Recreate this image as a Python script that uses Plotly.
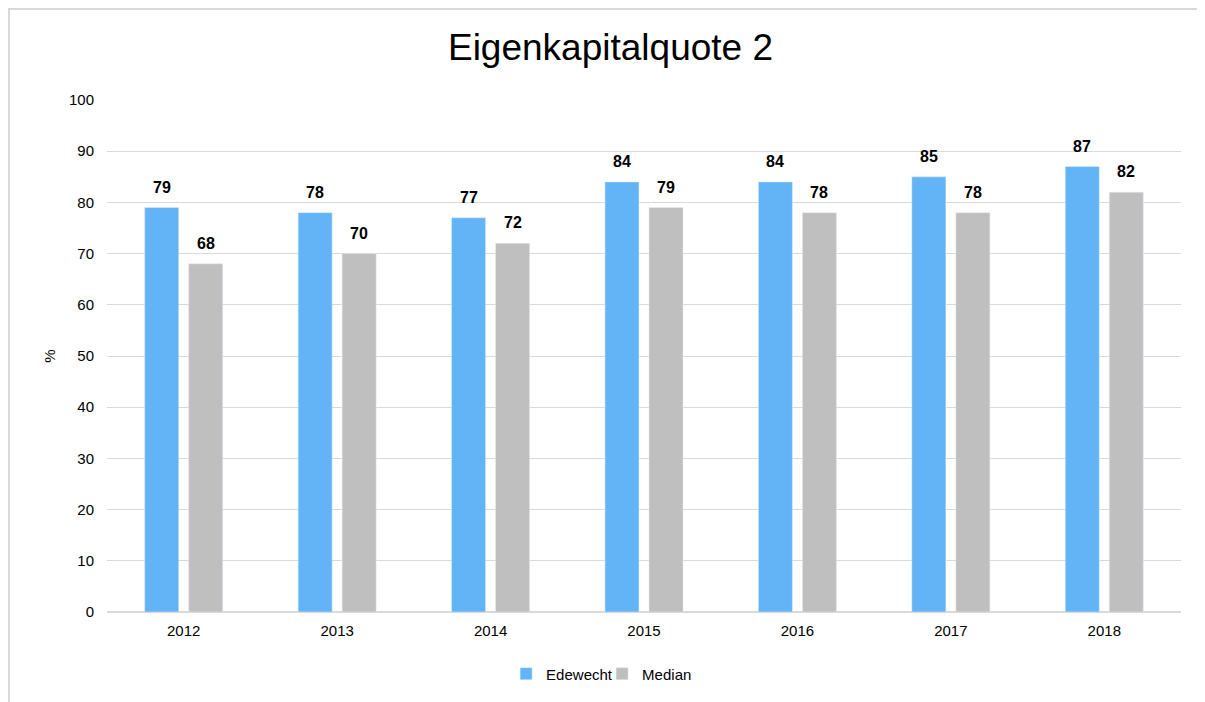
import plotly.graph_objects as go

years = ["2012", "2013", "2014", "2015", "2016", "2017", "2018"]
edewecht = [79, 78, 77, 84, 84, 85, 87]
median = [68, 70, 72, 79, 78, 78, 82]

BLUE = "#63b4f6"
GREY = "#bfbfbf"
FONT = "Liberation Sans, Arial, sans-serif"

fig = go.Figure()
fig.add_trace(go.Bar(x=years, y=edewecht, name="Edewecht", marker=dict(color=BLUE)))
fig.add_trace(go.Bar(x=years, y=median, name="Median", marker=dict(color=GREY)))

# value labels above the bars (x given as category index)
for series, shift in ((edewecht, -22), (median, 22)):
    for i, v in enumerate(series):
        fig.add_annotation(
            x=i, y=v, text=f"<b>{v}</b>", showarrow=False,
            xshift=shift, yshift=10, yanchor="bottom",
            font=dict(size=16, color="#000000", family=FONT),
        )

# light frame around the chart (page body adds 8px, so the frame sits at the figure edge)
fig.add_shape(
    type="rect", xref="paper", yref="paper",
    x0=-98 / 1074, x1=1.2,
    y0=-0.4, y1=(604 - 1) / 512,
    line=dict(color="#d9d9d9", width=2), fillcolor="rgba(0,0,0,0)", layer="below",
)

fig.update_layout(
    width=1205, height=702,
    margin=dict(l=99, r=32, t=92, b=98),
    paper_bgcolor="white", plot_bgcolor="white",
    font=dict(family=FONT, size=15, color="#000000"),
    title=dict(text="Eigenkapitalquote 2", x=0.5, xanchor="center", y=0.944, yanchor="middle",
               font=dict(size=37, color="#000000")),
    barmode="group", bargap=0.426, bargroupgap=0.227,
    showlegend=True,
    legend=dict(orientation="h", x=0.461, xanchor="center", y=-0.121, yanchor="middle",
                font=dict(size=15), traceorder="normal", itemwidth=30, entrywidth=51),
    xaxis=dict(type="category", range=[-0.5, len(years) - 0.5], showgrid=False, showline=False,
               ticks="", ticklabelstandoff=8, tickfont=dict(size=15)),
    yaxis=dict(range=[0, 100], dtick=10, showgrid=True, gridcolor="#d9d9d9", gridwidth=1,
               zeroline=True, zerolinecolor="#d9d9d9", zerolinewidth=2,
               ticks="", ticklabelstandoff=12, tickfont=dict(size=15),
               title=dict(text="%", font=dict(size=15), standoff=9)),
)

fig.write_html("out.html")
